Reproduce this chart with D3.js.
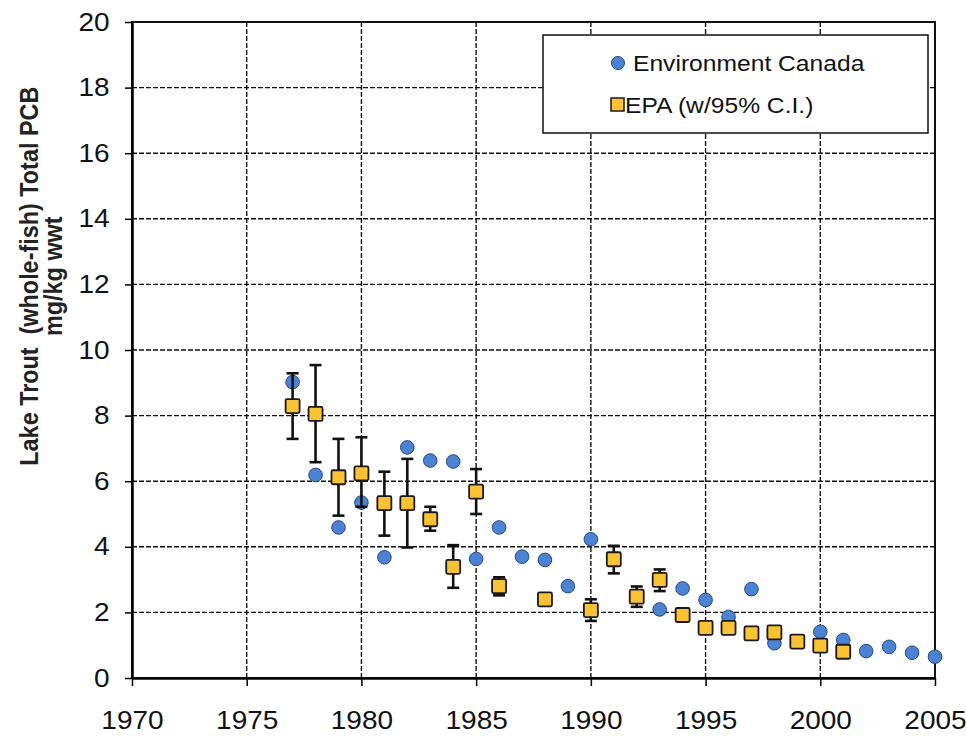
<!DOCTYPE html>
<html>
<head>
<meta charset="utf-8">
<script src="https://cdn.jsdelivr.net/npm/d3@7"></script>
<style>
  body { margin: 0; background: #fff; }
  svg { font-family: "Liberation Sans", Arial, sans-serif; }
</style>
</head>
<body>
<figure id="scatter" style="margin:0"></figure>
<script>
// Environment Canada (blue circles)
const ecYears = [1977, 1978, 1979, 1980, 1981, 1982, 1983, 1984, 1985, 1986, 1987, 1988, 1989, 1990,
  1993, 1994, 1995, 1996, 1997, 1998, 2000, 2001, 2002, 2003, 2004, 2005];
const ecValues = [9.02, 6.19, 4.59, 5.35, 3.68, 7.03, 6.63, 6.60, 3.63, 4.59, 3.70, 3.60, 2.80, 4.23,
  2.09, 2.73, 2.38, 1.86, 2.71, 1.06, 1.41, 1.16, 0.82, 0.95, 0.77, 0.65];

// EPA (yellow squares) with 95% C.I.
const epaYears = [1977, 1978, 1979, 1980, 1981, 1982, 1983, 1984, 1985, 1986, 1988, 1990, 1991, 1992,
  1993, 1994, 1995, 1996, 1997, 1998, 1999, 2000, 2001];
const epaValues = [8.29, 8.05, 6.12, 6.24, 5.33, 5.33, 4.84, 3.39, 5.68, 2.80, 2.40, 2.07, 3.62, 2.48,
  2.99, 1.92, 1.53, 1.53, 1.36, 1.39, 1.11, 0.99, 0.80];
const epaLow = [7.29, 6.58, 4.95, 5.22, 4.34, 3.98, 4.49, 2.75, 5.00, 2.52, null, 1.74, 3.19, 2.17,
  2.65, null, null, null, null, null, null, null, null];
const epaHigh = [9.29, 9.54, 7.29, 7.34, 6.29, 6.68, 5.22, 4.05, 6.37, 3.07, null, 2.40, 4.03, 2.79,
  3.31, null, null, null, null, null, null, null, null];

const xTicks = [1970, 1975, 1980, 1985, 1990, 1995, 2000, 2005];
const yTicks = [0, 2, 4, 6, 8, 10, 12, 14, 16, 18, 20];

const W = 966, H = 736;
const margin = { top: 22, right: 31, bottom: 58, left: 132 };
const width = W - margin.left - margin.right;
const height = H - margin.top - margin.bottom;
const stretch = "scale(1.12,1)";

const svg = d3.select("figure#scatter")
  .append("svg")
  .attr("width", W)
  .attr("height", H)
  .append("g")
  .attr("transform", "translate(" + margin.left + "," + margin.top + ")");

const x = d3.scaleLinear().domain([1970, 2005]).range([0, width]);
const y = d3.scaleLinear().domain([0, 20]).range([height, 0]);

// dashed grid
const grid = svg.append("g");
grid.selectAll("line.h")
  .data(yTicks.filter(d => d > 0 && d < 20))
  .enter().append("line")
  .attr("x1", 0).attr("x2", width)
  .attr("y1", d => y(d)).attr("y2", d => y(d))
  .attr("stroke", "#111").attr("stroke-width", 1.4)
  .attr("stroke-dasharray", "5,2");
grid.selectAll("line.v")
  .data(xTicks.filter(d => d > 1970 && d < 2005))
  .enter().append("line")
  .attr("y1", 0).attr("y2", height)
  .attr("x1", d => x(d)).attr("x2", d => x(d))
  .attr("stroke", "#111").attr("stroke-width", 1.4)
  .attr("stroke-dasharray", "5,2");

// frame
svg.append("rect")
  .attr("width", width).attr("height", height)
  .attr("fill", "none").attr("stroke", "#111").attr("stroke-width", 2);

// X axis
const xAxis = svg.append("g")
  .attr("transform", "translate(0," + height + ")")
  .call(d3.axisBottom(x).tickValues(xTicks).tickFormat(d3.format("d")).tickSize(8).tickSizeOuter(0));
xAxis.select(".domain").attr("stroke-width", 2.5);
xAxis.selectAll(".tick line").attr("stroke-width", 1.5);
xAxis.selectAll("text")
  .attr("font-size", 25).attr("fill", "#111").attr("dy", "1.62em")
  .attr("transform", stretch);

// Y axis
const yAxis = svg.append("g")
  .call(d3.axisLeft(y).tickValues(yTicks).tickSize(7).tickSizeOuter(0));
yAxis.select(".domain").attr("stroke-width", 2.5);
yAxis.selectAll(".tick line").attr("stroke-width", 1.5);
yAxis.selectAll("text")
  .attr("font-size", 25).attr("fill", "#111").attr("x", -20)
  .attr("transform", stretch);

// Y axis title (two lines)
const title = svg.append("text")
  .attr("transform", "translate(" + (-94) + "," + (y(12.25)) + ") rotate(-90) scale(1,1.12)")
  .attr("text-anchor", "middle")
  .style("white-space", "pre")
  .attr("font-size", 23.4).attr("font-weight", "bold").attr("fill", "#222");
title.append("tspan").attr("x", 0).attr("dy", 0).text("Lake Trout  (whole-fish) Total PCB");
title.append("tspan").attr("x", 0).attr("dy", "0.92em").text("mg/kg wwt");

// Environment Canada dots
svg.append("g").selectAll("circle")
  .data(ecYears.map((d, i) => ({ year: d, value: ecValues[i] })))
  .enter().append("circle")
  .attr("cx", d => x(d.year))
  .attr("cy", d => y(d.value))
  .attr("r", 6.8)
  .attr("fill", "#4a83d4")
  .attr("stroke", "#23487f").attr("stroke-width", 1);

// EPA error bars
const epa = epaYears.map((d, i) => ({ year: d, value: epaValues[i], lo: epaLow[i], hi: epaHigh[i] }));
const bars = svg.append("g").selectAll("g")
  .data(epa.filter(d => d.lo !== null))
  .enter().append("g")
  .attr("stroke", "#111").attr("stroke-width", 2.6);
bars.append("line")
  .attr("x1", d => x(d.year)).attr("x2", d => x(d.year))
  .attr("y1", d => y(d.lo)).attr("y2", d => y(d.hi));
bars.append("line")
  .attr("x1", d => x(d.year) - 6).attr("x2", d => x(d.year) + 6)
  .attr("y1", d => y(d.lo)).attr("y2", d => y(d.lo));
bars.append("line")
  .attr("x1", d => x(d.year) - 6).attr("x2", d => x(d.year) + 6)
  .attr("y1", d => y(d.hi)).attr("y2", d => y(d.hi));

// EPA squares
svg.append("g").selectAll("rect")
  .data(epa)
  .enter().append("rect")
  .attr("x", d => x(d.year) - 7)
  .attr("y", d => y(d.value) - 7)
  .attr("width", 14).attr("height", 14)
  .attr("rx", 1.5)
  .attr("fill", "#fbc234")
  .attr("stroke", "#1a1a1a").attr("stroke-width", 1.8);

// Legend
const legend = svg.append("g").attr("transform", "translate(" + (543 - margin.left) + "," + (35 - margin.top) + ")");
legend.append("rect")
  .attr("width", 385).attr("height", 98)
  .attr("fill", "#fff").attr("stroke", "#111").attr("stroke-width", 1.5);
legend.append("circle")
  .attr("cx", 75).attr("cy", 28).attr("r", 6.5)
  .attr("fill", "#4a83d4").attr("stroke", "#23487f").attr("stroke-width", 1);
legend.append("text")
  .attr("x", 90 / 1.12).attr("y", 36)
  .attr("font-size", 22).attr("fill", "#111")
  .attr("transform", stretch)
  .text("Environment Canada");
legend.append("rect")
  .attr("x", 68).attr("y", 63).attr("width", 13).attr("height", 13)
  .attr("fill", "#fbc234").attr("stroke", "#1a1a1a").attr("stroke-width", 1.5);
legend.append("text")
  .attr("x", 82 / 1.12).attr("y", 78)
  .attr("font-size", 22).attr("fill", "#111")
  .attr("transform", stretch)
  .text("EPA (w/95% C.I.)");
</script>
</body>
</html>
